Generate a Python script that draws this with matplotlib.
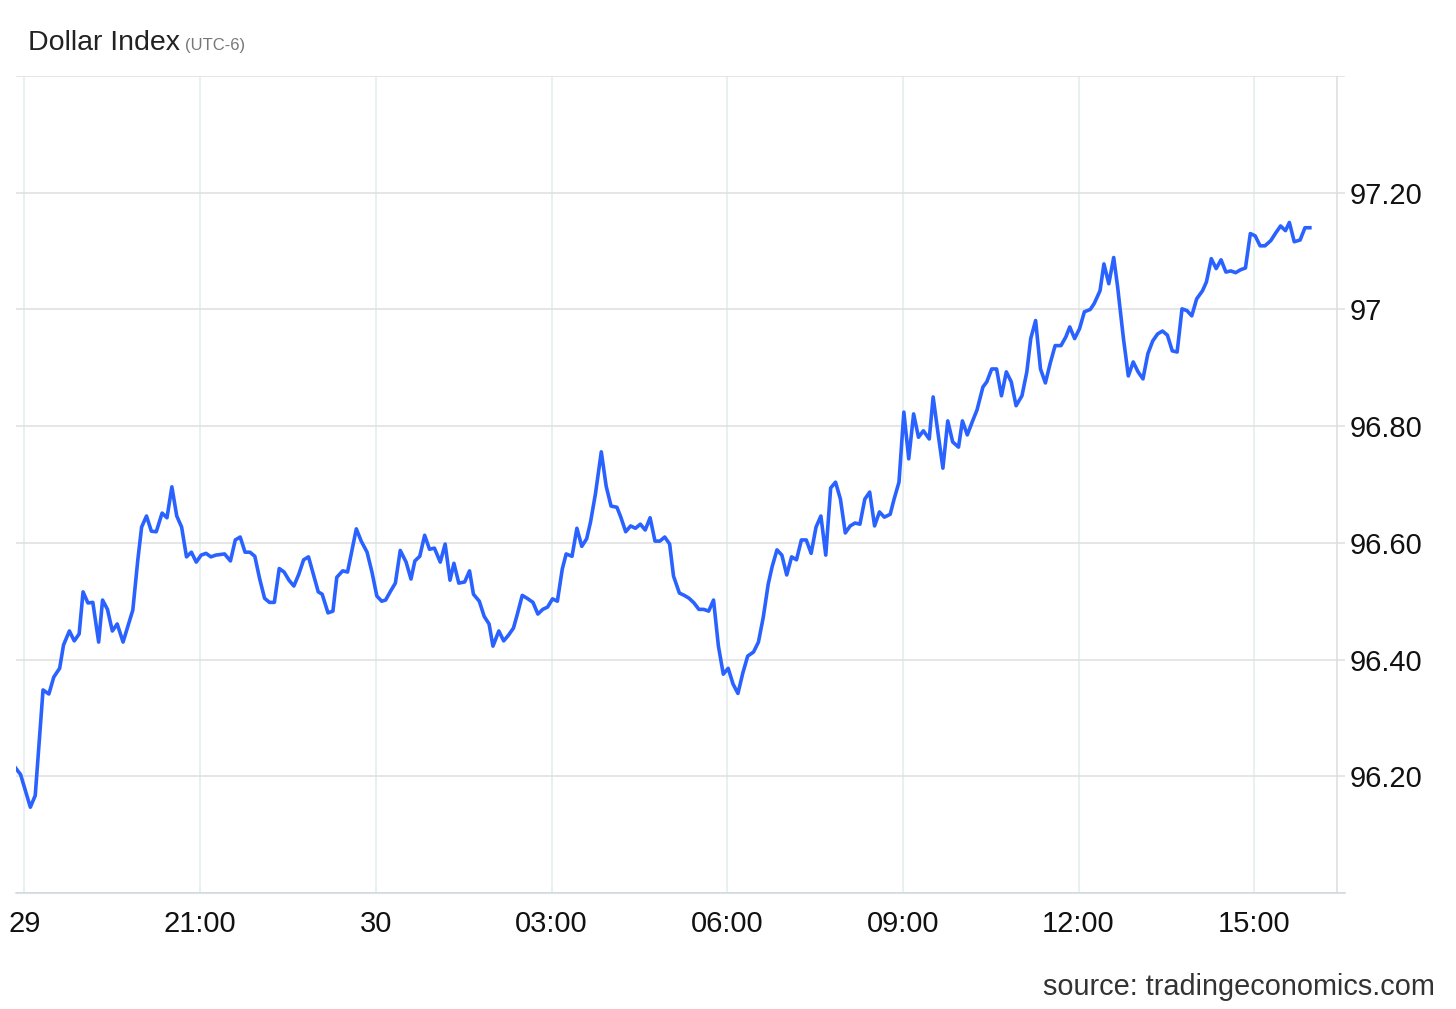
import matplotlib
matplotlib.use("Agg")
import matplotlib.pyplot as plt

plt.rcParams['font.family'] = ['Liberation Sans', 'DejaVu Sans']

# minutes after 18:00 on the 29th, and index value
minutes = [-9, -4, 6, 11, 19, 25, 30, 36, 40, 46, 51, 56, 60, 65, 70, 76, 80, 85, 90, 95,
           101, 105, 111, 116, 120, 125, 130, 135, 141, 146, 151, 156, 161, 166, 171, 176, 181, 186, 191, 196,
           205, 211, 216, 221, 226, 231, 236, 241, 246, 251, 256, 261, 266, 271, 276, 281, 286, 291, 296, 301,
           305, 311, 316, 320, 326, 331, 340, 345, 351, 356, 361, 366, 370, 375, 380, 385, 391, 396, 400, 405,
           410, 415, 420, 426, 431, 436, 440, 445, 451, 456, 460, 466, 471, 476, 480, 486, 491, 496, 501, 505,
           510, 515, 521, 526, 531, 536, 541, 546, 551, 555, 561, 566, 571, 576, 580, 585, 591, 596, 601, 607,
           611, 616, 621, 626, 631, 636, 641, 646, 651, 656, 661, 665, 671, 676, 681, 686, 691, 696, 701, 706,
           711, 716, 721, 726, 731, 736, 741, 747, 752, 757, 762, 766, 771, 776, 781, 786, 791, 796, 801, 806,
           811, 816, 821, 826, 831, 836, 841, 846, 851, 856, 861, 866, 871, 876, 881, 887, 891, 896, 901, 906,
           911, 916, 921, 927, 931, 936, 941, 946, 951, 957, 961, 966, 971, 976, 982, 986, 991, 996, 1001, 1006,
           1011, 1016, 1022, 1027, 1031, 1036, 1041, 1046, 1051, 1056, 1062, 1067, 1071, 1076, 1081, 1086, 1092, 1096, 1102, 1106,
           1111, 1116, 1120, 1126, 1131, 1136, 1141, 1146, 1151, 1156, 1161, 1166, 1171, 1176, 1181, 1186, 1191, 1196, 1201, 1207,
           1211, 1216, 1221, 1226, 1231, 1236, 1241, 1246, 1251, 1256, 1261, 1266, 1271, 1277, 1282, 1287, 1292, 1296, 1301, 1307,
           1312, 1317]
values = [96.214, 96.203, 96.147, 96.167, 96.348, 96.341, 96.370, 96.385, 96.425, 96.449, 96.432, 96.444, 96.516, 96.497, 96.498, 96.430, 96.502, 96.486, 96.449, 96.461,
          96.430, 96.452, 96.485, 96.569, 96.627, 96.646, 96.620, 96.619, 96.651, 96.643, 96.696, 96.646, 96.627, 96.576, 96.584, 96.567, 96.579, 96.582, 96.576, 96.579,
          96.581, 96.569, 96.605, 96.610, 96.584, 96.584, 96.577, 96.538, 96.505, 96.498, 96.498, 96.556, 96.550, 96.536, 96.526, 96.546, 96.571, 96.576, 96.546, 96.516,
          96.512, 96.480, 96.483, 96.541, 96.552, 96.550, 96.624, 96.603, 96.584, 96.550, 96.509, 96.500, 96.502, 96.517, 96.531, 96.587, 96.567, 96.538, 96.569, 96.577,
          96.613, 96.589, 96.591, 96.567, 96.598, 96.536, 96.565, 96.531, 96.533, 96.552, 96.512, 96.500, 96.474, 96.461, 96.423, 96.449, 96.432, 96.442, 96.454, 96.478,
          96.510, 96.505, 96.498, 96.478, 96.486, 96.490, 96.504, 96.500, 96.555, 96.581, 96.577, 96.625, 96.594, 96.607, 96.636, 96.684, 96.756, 96.697, 96.663, 96.661,
          96.644, 96.619, 96.629, 96.625, 96.632, 96.622, 96.643, 96.603, 96.603, 96.610, 96.598, 96.543, 96.514, 96.510, 96.505, 96.497, 96.486, 96.486, 96.483, 96.502,
          96.423, 96.375, 96.385, 96.358, 96.342, 96.377, 96.406, 96.413, 96.430, 96.473, 96.529, 96.559, 96.588, 96.579, 96.545, 96.576, 96.571, 96.605, 96.605, 96.582,
          96.627, 96.646, 96.579, 96.694, 96.704, 96.675, 96.617, 96.629, 96.634, 96.632, 96.675, 96.687, 96.629, 96.653, 96.644, 96.649, 96.675, 96.704, 96.824, 96.744,
          96.821, 96.781, 96.792, 96.778, 96.850, 96.788, 96.728, 96.809, 96.773, 96.764, 96.809, 96.785, 96.807, 96.828, 96.867, 96.876, 96.898, 96.898, 96.852, 96.893,
          96.876, 96.835, 96.852, 96.893, 96.950, 96.981, 96.898, 96.874, 96.908, 96.938, 96.938, 96.953, 96.970, 96.950, 96.967, 96.996, 97.000, 97.010, 97.032, 97.078,
          97.044, 97.089, 97.039, 96.950, 96.886, 96.910, 96.893, 96.881, 96.924, 96.946, 96.958, 96.963, 96.956, 96.929, 96.927, 97.001, 96.998, 96.989, 97.018, 97.032,
          97.047, 97.087, 97.070, 97.085, 97.064, 97.066, 97.063, 97.068, 97.071, 97.130, 97.126, 97.109, 97.109, 97.118, 97.131, 97.143, 97.135, 97.149, 97.116, 97.119,
          97.140, 97.140]

xtick_pos = [0, 180, 360, 540, 720, 900, 1080, 1260]
xtick_labels = ["29", "21:00", "30", "03:00", "06:00", "09:00", "12:00", "15:00"]
ytick_pos = [96.0, 96.2, 96.4, 96.6, 96.8, 97.0, 97.2, 97.4]
ytick_labels = ["", "96.20", "96.40", "96.60", "96.80", "97", "97.20", ""]

fig = plt.figure(figsize=(14.56, 10.09), dpi=100)
ax = fig.add_axes([16/1456, 1 - 893/1009, (1345 - 16)/1456, (893 - 76)/1009])

ax.plot(minutes, values, color="#2962ff", lw=2.6, solid_joinstyle="round", zorder=3)

ax.set_xlim(-8.7, 1353)
ax.set_ylim(96.0, 97.4)

ax.set_xticks(xtick_pos)
ax.set_xticklabels(xtick_labels)
ax.set_yticks(ytick_pos)
ax.set_yticklabels(ytick_labels)
ax.yaxis.tick_right()
ax.tick_params(axis="x", length=0, pad=12, labelsize=21, colors="#111111")
ax.tick_params(axis="y", length=0, pad=3, labelsize=21, colors="#111111")
ax.grid(axis="y", color="#dfdfdf", lw=1.1)
ax.grid(axis="x", color="#e2ecef", lw=1.1)
ax.set_axisbelow(True)

for s in ["top", "left", "right"]:
    ax.spines[s].set_visible(False)
ax.spines["bottom"].set_color("#cfd8dc")
ax.spines["bottom"].set_linewidth(1.1)
# right border sits a little inside the axes, grid lines run past it
ax.axvline(1344.5, color="#dcdcdc", lw=1.1, zorder=1)

title = fig.text(28/1456, 1 - 50/1009, "Dollar Index", fontsize=20.5, color="#222222", va="baseline")
fig.canvas.draw()
bb = title.get_window_extent()
fig.text((bb.x1 + 5)/1456, 1 - 50/1009, "(UTC-6)", fontsize=12, color="#777777", va="baseline")
fig.text(1435/1456, 1 - 995/1009, "source: tradingeconomics.com", fontsize=20.8,
         color="#333333", ha="right", va="baseline")

fig.savefig("out.png", dpi=100)
